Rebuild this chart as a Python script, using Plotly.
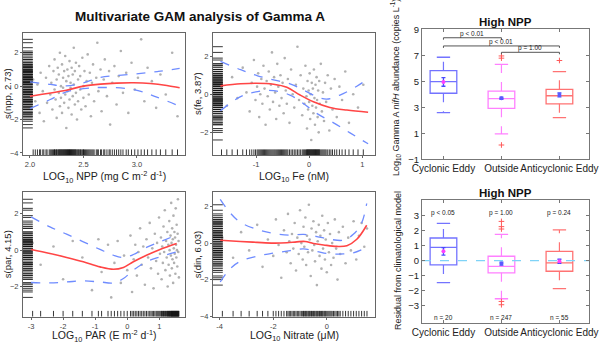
import plotly.graph_objects as go

W, H = 600, 345

# ---------------- GAM panel data ----------------
npp_pts = [(2.03,0.4),(2.05,-0.9),(2.07,0.1),(2.09,-1.6),(2.10,0.8),(2.12,-0.3),(2.13,-2.1),(2.15,0.5),(2.16,-1.0),(2.18,1.2),
 (2.19,-0.5),(2.20,0.2),(2.21,-1.4),(2.22,0.9),(2.23,-0.2),(2.23,1.6),(2.24,-0.8),(2.25,0.4),(2.25,-1.9),(2.26,1.1),
 (2.27,-0.4),(2.27,0.7),(2.28,-1.2),(2.28,2.0),(2.29,0.0),(2.29,-0.7),(2.30,1.3),(2.30,-1.6),(2.31,0.5),(2.31,-0.1),
 (2.32,0.9),(2.32,-1.0),(2.33,1.8),(2.33,-0.5),(2.34,0.3),(2.34,-2.5),(2.35,1.0),(2.35,-0.3),(2.36,0.6),(2.36,-1.3),
 (2.37,1.5),(2.37,-0.8),(2.38,0.2),(2.38,-0.1),(2.39,1.1),(2.39,-1.7),(2.40,0.7),(2.40,-0.6),(2.41,2.3),(2.41,0.1),
 (2.42,-1.1),(2.42,0.9),(2.43,-0.4),(2.43,1.4),(2.44,-2.0),(2.45,0.4),(2.45,-0.9),(2.46,1.2),(2.47,-0.2),(2.47,0.6),
 (2.48,-1.4),(2.49,1.7),(2.50,0.0),(2.50,-0.7),(2.51,0.9),(2.52,-1.2),(2.53,0.3),(2.54,1.9),(2.55,-0.5),(2.56,0.8),
 (2.57,-1.8),(2.58,0.2),(2.59,1.3),(2.60,-0.9),(2.62,0.5),(2.63,2.6),(2.64,-0.3),(2.66,1.0),(2.67,-1.5),(2.69,0.4),
 (2.70,1.6),(2.72,-0.6),(2.74,0.9),(2.75,-2.3),(2.77,0.2),(2.79,1.2),(2.81,-1.1),(2.83,0.6),(2.85,2.1),(2.87,-0.4),
 (2.90,0.8),(2.92,-1.6),(2.95,1.4),(2.98,-0.2),(3.01,0.5),(3.04,2.8),(3.07,-0.9),(3.10,1.1),(3.14,0.3),(3.18,-1.3),
 (3.22,0.7),(3.27,-0.5),(3.33,2.0),(3.38,-1.8)]
npp_fit_x = [2.0, 2.34, 2.5, 2.66, 2.81, 2.97, 3.125, 3.28, 3.4]
npp_fit = [-0.6, -0.24, 0.0, 0.12, 0.18, 0.2, 0.16, 0.04, -0.1]
npp_up_x = [2.0, 2.19, 2.34, 2.5, 2.66, 2.97, 3.2, 3.4]
npp_up = [0.26, 0.1, 0.02, 0.2, 0.52, 0.72, 0.88, 1.06]
npp_lo_x = [2.0, 2.19, 2.34, 2.5, 2.66, 2.97, 3.18, 3.4]
npp_lo = [-1.34, -0.8, -0.34, -0.15, -0.08, -0.2, -0.64, -1.2]

fe_pts = [(-1.65,0.3),(-1.55,-0.6),(-1.45,0.9),(-1.35,-0.2),(-1.25,1.4),(-1.18,0.1),(-1.12,-0.9),(-1.08,0.6),(-1.04,1.8),(-1.01,-0.3),
 (-0.98,0.4),(-0.96,1.1),(-0.94,-1.2),(-0.92,0.0),(-0.90,0.8),(-0.88,-0.5),(-0.86,1.5),(-0.84,0.3),(-0.82,-1.6),(-0.80,0.7),
 (-0.78,-0.1),(-0.76,1.2),(-0.74,-0.8),(-0.72,0.5),(-0.70,2.2),(-0.68,-0.4),(-0.66,0.9),(-0.64,0.1),(-0.62,-1.3),(-0.60,1.6),
 (-0.58,0.4),(-0.56,-0.6),(-0.54,1.0),(-0.52,-0.2),(-0.50,0.6),(-0.48,-1.0),(-0.46,1.9),(-0.44,0.2),(-0.42,-0.5),(-0.40,0.8),
 (-0.37,-1.5),(-0.34,1.3),(-0.31,0.0),(-0.28,-0.7),(-0.25,0.5),(-0.22,2.5),(-0.19,-0.3),(-0.16,1.0),(-0.13,-1.1),(-0.11,0.3),
 (-0.09,-0.5),(-0.07,1.5),(-0.05,-0.1),(-0.04,-1.8),(-0.03,0.7),(-0.02,-0.8),(-0.01,0.2),(0.00,-0.4),(0.01,1.1),(0.02,-1.3),
 (0.03,0.0),(0.04,-2.4),(0.05,0.6),(0.06,-0.6),(0.07,0.3),(0.08,-1.0),(0.09,1.3),(0.10,-0.2),(0.11,-1.6),(0.12,0.5),
 (0.13,-0.7),(0.14,0.9),(0.15,-0.3),(0.16,-1.2),(0.17,0.2),(0.18,-2.0),(0.19,0.7),(0.20,-0.5),(0.22,1.6),(0.24,-0.9),
 (0.26,0.1),(0.28,-1.4),(0.30,0.6),(0.32,-0.4),(0.35,1.0),(0.38,-1.9),(0.41,0.3),(0.44,-0.8),(0.48,0.8),(0.52,-1.2),
 (0.57,0.4),(0.62,-0.3),(0.68,1.2),(0.75,-1.5),(0.83,0.0),(0.92,-0.7),(1.02,0.5)]
fe_fit_x = [-1.67, -1.29, -1.0, -0.67, -0.42, -0.17, 0.08, 0.39, 0.71, 1.11]
fe_fit = [0.44, 0.55, 0.58, 0.53, 0.37, -0.04, -0.39, -0.69, -0.83, -0.94]
fe_up_x = [-1.67, -1.29, -0.97, -0.67, -0.36, -0.11, 0.14, 0.33, 0.58, 0.89, 1.11]
fe_up = [1.73, 1.29, 0.97, 0.76, 0.55, 0.23, -0.12, -0.25, -0.04, 0.41, 0.81]
fe_lo_x = [-1.67, -1.29, -0.97, -0.67, -0.36, -0.11, 0.14, 0.46, 0.77, 1.11]
fe_lo = [-0.87, -0.12, 0.14, 0.19, -0.04, -0.48, -1.0, -1.5, -2.03, -2.6]

par_pts = [(-2.95,0.4),(-2.7,-0.8),(-2.3,0.2),(-2.0,-1.6),(-1.7,0.5),(-1.4,-0.4),(-1.1,-2.2),(-0.9,0.6),(-0.8,-1.2),(-0.6,0.3),
 (-0.5,-2.6),(-0.4,-0.7),(-0.3,0.5),(-0.2,-1.8),(-0.1,-0.3),(0.0,-1.1),(0.1,0.8),(0.15,-2.3),(0.2,-0.5),(0.25,0.3),
 (0.3,-1.4),(0.35,-0.1),(0.4,1.2),(0.45,-0.8),(0.5,0.2),(0.55,-1.9),(0.6,0.6),(0.65,-0.4),(0.7,1.5),(0.74,-1.0),
 (0.78,0.1),(0.82,-2.1),(0.86,0.9),(0.9,-0.6),(0.93,0.4),(0.96,-1.3),(0.99,1.8),(1.02,-0.2),(1.05,0.7),(1.07,-1.6),
 (1.09,0.2),(1.11,-0.7),(1.13,1.3),(1.15,-0.1),(1.17,2.2),(1.19,-1.1),(1.21,0.5),(1.23,-0.4),(1.25,1.0),(1.26,-2.0),
 (1.28,0.3),(1.29,-0.8),(1.31,1.6),(1.32,0.0),(1.33,-1.4),(1.35,0.8),(1.36,-0.3),(1.37,2.6),(1.38,0.4),(1.39,-1.0),
 (1.40,1.2),(1.41,-0.5),(1.42,0.6),(1.43,-1.8),(1.44,1.9),(1.45,0.1),(1.46,-0.7),(1.47,1.0),(1.48,-0.2),(1.49,0.7),
 (1.50,-1.3),(1.51,2.3),(1.52,0.3),(1.53,-0.4),(1.54,1.4),(1.55,0.0),(1.56,-0.9),(1.57,0.9),(1.58,2.8),(1.59,-0.1),
 (1.60,0.5),(1.61,-1.5)]
par_fit_x = [-3.0, -2.41, -1.89, -1.37, -0.85, -0.43, -0.12, 0.19, 0.6, 1.02, 1.54]
par_fit = [0.04, -0.18, -0.4, -0.64, -0.92, -1.05, -0.95, -0.64, -0.28, 0.04, 0.37]
par_up_x = par_fit_x
par_up = [1.83, 1.28, 0.88, 0.46, 0.04, -0.28, -0.4, -0.24, 0.15, 0.46, 0.83]
par_lo_x = par_fit_x
par_lo = [-1.78, -1.8, -1.75, -1.69, -1.75, -1.8, -1.56, -1.1, -0.64, -0.37, -0.09]

nit_pts = [(-3.9,0.3),(-3.5,-0.8),(-3.2,0.6),(-2.9,-0.4),(-2.6,1.0),(-2.4,-1.3),(-2.2,0.2),(-2.0,-0.7),(-1.9,1.3),(-1.8,-0.1),
 (-1.7,-1.9),(-1.6,0.7),(-1.5,-0.5),(-1.45,1.6),(-1.4,0.1),(-1.35,-1.1),(-1.3,0.5),(-1.25,-0.3),(-1.2,1.1),(-1.15,-1.5),
 (-1.1,0.3),(-1.05,-0.6),(-1.0,1.8),(-0.95,0.0),(-0.9,-0.9),(-0.87,0.9),(-0.84,-0.2),(-0.8,1.4),(-0.77,-1.2),(-0.74,0.4),
 (-0.7,-0.5),(-0.67,2.1),(-0.64,0.2),(-0.6,-1.8),(-0.57,0.8),(-0.54,-0.4),(-0.5,1.2),(-0.47,-0.1),(-0.44,-1.0),(-0.4,0.6),
 (-0.37,-2.3),(-0.34,0.1),(-0.3,1.0),(-0.27,-0.7),(-0.24,0.4),(-0.2,-1.4),(-0.17,1.5),(-0.14,-0.3),(-0.1,0.7),(-0.07,-0.9),
 (-0.04,0.2),(0.0,-1.6),(0.04,1.1),(0.08,-0.5),(0.12,0.5),(0.16,-1.2),(0.2,0.0),(0.25,-0.8),(0.3,1.3),(0.35,-0.3),
 (0.4,-2.0),(0.45,0.6),(0.5,-0.6),(0.6,0.9),(0.7,-1.1),(0.8,0.3),(0.9,-0.4),(1.0,1.2),(1.1,-0.9),(1.2,0.4),
 (1.3,1.1),(1.4,-0.2),(1.5,0.8)]
nit_fit_x = [-3.98, -3.23, -2.6, -1.99, -1.49, -1.12, -0.81, -0.5, -0.12, 0.37, 0.75, 1.12, 1.49]
nit_fit = [0.16, 0.09, 0.04, 0.0, 0.02, 0.07, 0.09, -0.02, -0.1, -0.18, -0.14, 0.21, 0.98]
nit_up_x = [-3.98, -3.6, -3.23, -2.6, -1.99, -1.37, -0.87, -0.37, 0.12, 0.62, 0.99, 1.3, 1.49]
nit_up = [2.4, 1.64, 1.14, 0.75, 0.53, 0.43, 0.48, 0.36, 0.21, 0.16, 0.48, 1.1, 2.17]
nit_lo_x = [-3.98, -3.6, -3.23, -2.6, -1.99, -1.37, -0.87, -0.37, 0.12, 0.62, 0.99, 1.49]
nit_lo = [-2.13, -1.39, -1.0, -0.71, -0.55, -0.41, -0.32, -0.46, -0.59, -0.59, -0.53, -0.23]

# ---------------- Box panel data ----------------
categories = ["Cyclonic Eddy", "Outside", "Anticyclonic Eddy"]
cat_pos = [0, 1, 2]
abund_low = [2.59, 0.95, 2.2]
abund_q1 = [4.08, 2.92, 3.27]
abund_med = [4.97, 3.66, 3.89]
abund_q3 = [5.82, 4.25, 4.38]
abund_high = [6.85, 6.3, 5.74]
abund_mean = [4.95, 3.7, 3.95]
abund_se = [0.33, 0.08, 0.15]
abund_out_x = [1, 1, 1, 2]
abund_out_y = [6.95, 6.78, 0.1, 6.6]
sig_pairs = [(0, 1), (0, 2), (1, 2)]
sig_y = [8.35, 7.72, 7.23]
sig_text = ["p < 0.01", "p < 0.01", "p = 1.00"]

resid_low = [-1.47, -2.55, -1.87]
resid_q1 = [-0.29, -0.82, -0.71]
resid_med = [0.89, -0.38, -0.15]
resid_q3 = [1.51, 0.29, 0.62]
resid_high = [2.49, 1.75, 2.05]
resid_mean = [0.62, -0.2, -0.05]
resid_se = [0.25, 0.1, 0.14]
resid_out_x = [1, 1, 1, 1, 1]
resid_out_y = [2.62, 2.27, 2.11, -2.73, -2.95]
resid_p = ["p < 0.05", "p = 1.00", "p = 0.24"]
resid_n = ["n = 20", "n = 247", "n = 55"]

box_colors = ["#7373ff", "#ff80ff", "#ff7373"]
mean_colors1 = ["#ff40ff", "#5a5aff", "#5a5aff"]
mean_colors2 = ["#ff40ff", "#5a5aff", "#ff40ff"]

FONT = "Liberation Sans, Arial, sans-serif"

def px_x(p):
    return p / W

def px_y(p):
    return 1 - p / H

fig = go.Figure()

gam_panels = [
    dict(pts=npp_pts, fx=npp_fit_x, f=npp_fit, ux=npp_up_x, u=npp_up, lx=npp_lo_x, l=npp_lo,
         dom_x=(23, 185), dom_y=(33, 155), xr=[1.935, 3.45], yr=[-4.12, 3.18],
         xt=[2.0, 2.5, 3.0], xtt=["2.0", "2.5", "3.0"], yt=[-4, -2, 0, 2],
         xtitle="LOG<sub>10</sub> NPP (mg C m<sup>-2</sup> d<sup>-1</sup>)", ytitle="s(npp, 2.73)"),
    dict(pts=fe_pts, fx=fe_fit_x, f=fe_fit, ux=fe_up_x, u=fe_up, lx=fe_lo_x, l=fe_lo,
         dom_x=(213, 375), dom_y=(33, 155), xr=[-1.81, 1.24], yr=[-3.19, 3.22],
         xt=[-1, 0, 1], xtt=["-1", "0", "1"], yt=[-2, 0, 2],
         xtitle="LOG<sub>10</sub> Fe (nM)", ytitle="s(fe, 3.87)"),
    dict(pts=par_pts, fx=par_fit_x, f=par_fit, ux=par_up_x, u=par_up, lx=par_lo_x, l=par_lo,
         dom_x=(23, 185), dom_y=(192, 316.5), xr=[-3.25, 1.8], yr=[-3.65, 3.2],
         xt=[-3, -2, -1, 0, 1], xtt=["-3", "-2", "-1", "0", "1"], yt=[-2, 0, 2],
         xtitle="LOG<sub>10</sub> PAR (E m<sup>-2</sup> d<sup>-1</sup>)", ytitle="s(par, 4.15)"),
    dict(pts=nit_pts, fx=nit_fit_x, f=nit_fit, ux=nit_up_x, u=nit_up, lx=nit_lo_x, l=nit_lo,
         dom_x=(213, 375), dom_y=(192, 316.5), xr=[-4.25, 1.8], yr=[-4.02, 2.8],
         xt=[-4, -2, 0], xtt=["-4", "-2", "0"], yt=[-4, -2, 0, 2],
         xtitle="LOG<sub>10</sub> Nitrate (μM)", ytitle="s(din, 6.03)"),
]

annotations = []

def note(text, x, y, size, xref="paper", yref="paper", angle=0, color="#222"):
    annotations.append(dict(text=text, x=x, y=y, xref=xref, yref=yref, showarrow=False,
                            xanchor="center", yanchor="middle", textangle=angle,
                            font=dict(size=size, color=color, family=FONT)))

layout_axes = {}
for i, p in enumerate(gam_panels):
    k = i + 1
    xa = "x" if k == 1 else f"x{k}"
    ya = "y" if k == 1 else f"y{k}"
    xs = [a for a, b in p["pts"]]
    ys = [b for a, b in p["pts"]]
    fig.add_trace(go.Scatter(x=xs, y=ys, mode="markers", xaxis=xa, yaxis=ya,
                             marker=dict(size=2.6, color="rgba(60,60,60,0.4)", symbol="circle"),
                             showlegend=False, hoverinfo="skip"))
    # rugs
    fig.add_trace(go.Scatter(x=xs, y=[p["yr"][0]] * len(xs), mode="markers", xaxis=xa, yaxis=ya,
                             marker=dict(size=8, symbol="line-ns", line=dict(width=1, color="rgba(20,20,20,0.85)")),
                             showlegend=False, hoverinfo="skip"))
    fig.add_trace(go.Scatter(x=[p["xr"][0]] * len(ys), y=ys, mode="markers", xaxis=xa, yaxis=ya,
                             marker=dict(size=14, symbol="line-ew", line=dict(width=1, color="rgba(20,20,20,0.85)")),
                             showlegend=False, hoverinfo="skip"))
    fig.add_trace(go.Scatter(x=p["ux"], y=p["u"], mode="lines", xaxis=xa, yaxis=ya, line_shape="spline",
                             line=dict(color="#6f8cff", width=1.3, dash="dash"), showlegend=False))
    fig.add_trace(go.Scatter(x=p["lx"], y=p["l"], mode="lines", xaxis=xa, yaxis=ya, line_shape="spline",
                             line=dict(color="#6f8cff", width=1.3, dash="dash"), showlegend=False))
    fig.add_trace(go.Scatter(x=p["fx"], y=p["f"], mode="lines", xaxis=xa, yaxis=ya, line_shape="spline",
                             line=dict(color="#ff4545", width=1.6), showlegend=False))
    axcommon = dict(showgrid=False, zeroline=False, showline=True, mirror=True, linecolor="#666",
                    linewidth=1, ticks="outside", ticklen=2, tickcolor="#666", automargin=False,
                    tickangle=0, tickfont=dict(size=7.5, color="#444", family=FONT))
    layout_axes["xaxis" if k == 1 else f"xaxis{k}"] = dict(
        domain=[px_x(p["dom_x"][0]), px_x(p["dom_x"][1])], range=p["xr"], anchor=ya,
        tickvals=p["xt"], ticktext=p["xtt"], **axcommon)
    layout_axes["yaxis" if k == 1 else f"yaxis{k}"] = dict(
        domain=[px_y(p["dom_y"][1]), px_y(p["dom_y"][0])], range=p["yr"], anchor=xa,
        tickvals=p["yt"], **axcommon)
    cx = (p["dom_x"][0] + p["dom_x"][1]) / 2
    ty = 177 if p["dom_y"][0] < 100 else 336
    note(p["xtitle"], px_x(cx), px_y(ty), 10.5)
    cy = (p["dom_y"][0] + p["dom_y"][1]) / 2
    note(p["ytitle"], px_x(p["dom_x"][0] - 16), px_y(cy), 9.5, angle=-90)

# ---------------- Box panels ----------------
def add_box_panel(k, low, q1, med, q3, high, mean, se, out_x, out_y, mean_cols):
    xa, ya = f"x{k}", f"y{k}"
    for i in range(3):
        c = box_colors[i]
        fig.add_trace(go.Box(x=[cat_pos[i]], q1=[q1[i]], median=[med[i]], q3=[q3[i]],
                             lowerfence=[q1[i]], upperfence=[q3[i]], width=0.46,
                             fillcolor="rgba(0,0,0,0)", line=dict(color=c, width=1.3),
                             xaxis=xa, yaxis=ya, showlegend=False, boxpoints=False, hoverinfo="skip"))
        fig.add_trace(go.Scatter(x=[cat_pos[i], cat_pos[i], None, cat_pos[i], cat_pos[i]],
                                 y=[q3[i], high[i], None, q1[i], low[i]], mode="lines",
                                 line=dict(color=c, width=1.2, dash="dash"), xaxis=xa, yaxis=ya,
                                 showlegend=False, hoverinfo="skip"))
        cw = 0.115
        fig.add_trace(go.Scatter(x=[cat_pos[i] - cw, cat_pos[i] + cw, None, cat_pos[i] - cw, cat_pos[i] + cw],
                                 y=[high[i], high[i], None, low[i], low[i]], mode="lines",
                                 line=dict(color=c, width=1.3), xaxis=xa, yaxis=ya,
                                 showlegend=False, hoverinfo="skip"))
    fig.add_trace(go.Scatter(x=out_x, y=out_y, mode="markers", xaxis=xa, yaxis=ya,
                             marker=dict(symbol="cross-thin", size=4, line=dict(width=1, color="#ff5a5a")),
                             showlegend=False, hoverinfo="skip"))
    fig.add_trace(go.Scatter(x=cat_pos, y=mean, mode="markers", xaxis=xa, yaxis=ya,
                             error_y=dict(type="data", array=se, color="#4a4aff", thickness=1.3, width=2),
                             marker=dict(size=4, color=mean_cols),
                             showlegend=False, hoverinfo="skip"))

add_box_panel(5, abund_low, abund_q1, abund_med, abund_q3, abund_high, abund_mean, abund_se,
              abund_out_x, abund_out_y, mean_colors1)
add_box_panel(6, resid_low, resid_q1, resid_med, resid_q3, resid_high, resid_mean, resid_se,
              resid_out_x, resid_out_y, mean_colors2)

# significance brackets
for (a, b), yv, t in zip(sig_pairs, sig_y, sig_text):
    fig.add_trace(go.Scatter(x=[cat_pos[a], cat_pos[a], cat_pos[b], cat_pos[b]],
                             y=[yv - 0.15, yv, yv, yv - 0.15], mode="lines", xaxis="x5", yaxis="y5",
                             line=dict(color="#555", width=1), showlegend=False, hoverinfo="skip"))
    note(t, (cat_pos[a] + cat_pos[b]) / 2, yv + 0.3, 6.5, xref="x5", yref="y5")

# zero reference line on residual panel
fig.add_trace(go.Scatter(x=[-0.37, 2.51], y=[0, 0], mode="lines", xaxis="x6", yaxis="y6",
                         line=dict(color="#7fd3f7", width=1.3, dash="dash"), showlegend=False, hoverinfo="skip"))

for i in range(3):
    note(resid_p[i], cat_pos[i], 3.15, 6.5, xref="x6", yref="y6")
    note(resid_n[i], cat_pos[i], -3.8, 6.5, xref="x6", yref="y6")

box_ax = dict(showgrid=False, zeroline=False, showline=True, mirror="ticks", linecolor="#777",
              linewidth=1, ticks="inside", ticklen=3, tickcolor="#777", automargin=False, tickangle=0)
layout_axes["xaxis5"] = dict(domain=[px_x(422), px_x(589)], range=[-0.37, 2.51], anchor="y5",
                             tickvals=cat_pos, ticktext=categories,
                             tickfont=dict(size=10, color="#222", family=FONT), **box_ax)
layout_axes["yaxis5"] = dict(domain=[px_y(159.3), px_y(29.3)], range=[-1, 9], anchor="x5",
                             tickvals=[-1, 1, 3, 5, 7, 9],
                             tickfont=dict(size=9.5, color="#222", family=FONT), **box_ax)
layout_axes["xaxis6"] = dict(domain=[px_x(422), px_x(589)], range=[-0.37, 2.51], anchor="y6",
                             tickvals=cat_pos, ticktext=categories,
                             tickfont=dict(size=10, color="#222", family=FONT), **box_ax)
layout_axes["yaxis6"] = dict(domain=[px_y(322.7), px_y(200)], range=[-4.15, 4.05], anchor="x6",
                             tickvals=[-3, -2, -1, 0, 1, 2, 3],
                             tickfont=dict(size=9.5, color="#222", family=FONT), **box_ax)

# titles
note("<b>Multivariate GAM analysis of Gamma A</b>", px_x(200), px_y(16), 13.5, color="#111")
note("<b>High NPP</b>", px_x(505), px_y(21.5), 11.5, color="#111")
note("<b>High NPP</b>", px_x(505), px_y(192.5), 11.5, color="#111")
note("Log<sub>10</sub> Gamma A <i>nifH</i> abundance (copies L<sup>-1</sup>)", px_x(396), px_y(88), 9, angle=-90)
note("Residual from climatological model", px_x(398), px_y(261), 9, angle=-90)

fig.update_layout(width=W, height=H, margin=dict(l=0, r=0, t=0, b=0, autoexpand=False),
                  paper_bgcolor="white", plot_bgcolor="white",
                  font=dict(family=FONT), annotations=annotations, **layout_axes)

fix_page = ("var s=document.createElement('style');"
            "s.textContent='html,body{margin:0!important;padding:0!important;overflow:hidden;width:600px;height:345px;}';"
            "document.head.appendChild(s);window.scrollTo(0,0);")
fig.write_html("out.html", config={"displayModeBar": False, "responsive": False}, post_script=fix_page)
